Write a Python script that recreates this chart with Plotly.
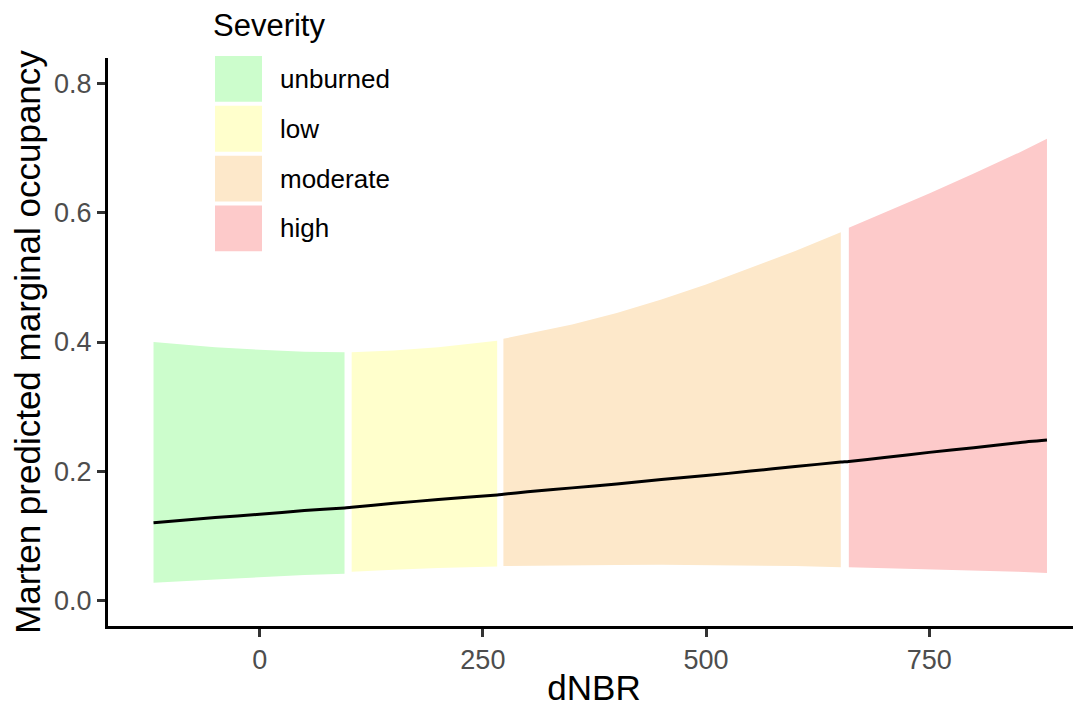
import plotly.graph_objects as go

# ---- data ----
dnbr = [-119, -50, 0, 50, 95,
        103, 150, 200, 266,
        273, 300, 350, 400, 450, 500, 550, 600, 651,
        660, 700, 750, 800, 850, 882]
fit = [0.120, 0.128, 0.133, 0.139, 0.143,
       0.144, 0.150, 0.156, 0.163,
       0.164, 0.168, 0.174, 0.180, 0.187, 0.193, 0.200, 0.207, 0.214,
       0.215, 0.221, 0.229, 0.236, 0.244, 0.248]
lower = [0.027, 0.032, 0.036, 0.039, 0.041,
         0.044, 0.047, 0.050, 0.052,
         0.053, 0.0535, 0.054, 0.0545, 0.055, 0.055, 0.054, 0.053, 0.051,
         0.051, 0.050, 0.048, 0.046, 0.044, 0.042]
upper = [0.400, 0.392, 0.388, 0.385, 0.384,
         0.384, 0.387, 0.392, 0.402,
         0.405, 0.413, 0.427, 0.445, 0.466, 0.489, 0.515, 0.541, 0.570,
         0.577, 0.600, 0.630, 0.661, 0.693, 0.715]
severity = (["unburned"] * 5 + ["low"] * 4 +
            ["moderate"] * 9 + ["high"] * 6)

classes = ["unburned", "low", "moderate", "high"]
class_colors = ["#CCFDCC", "#FFFFCC", "#FDE8CA", "#FDCACA"]

x_ticks = [0, 250, 500, 750]
y_ticks = [0.0, 0.2, 0.4, 0.6, 0.8]

FONT = "Liberation Sans, Arial, sans-serif"

fig = go.Figure()

for cls, col in zip(classes, class_colors):
    idx = [i for i, s in enumerate(severity) if s == cls]
    xs = [dnbr[i] for i in idx]
    up = [upper[i] for i in idx]
    lo = [lower[i] for i in idx]
    fig.add_trace(go.Scatter(
        x=xs + xs[::-1], y=up + lo[::-1],
        fill="toself", fillcolor=col, mode="lines",
        line=dict(width=0, color=col), showlegend=False,
        hoverinfo="skip"))

fig.add_trace(go.Scatter(x=dnbr, y=fit, mode="lines",
                         line=dict(color="black", width=3, shape="spline",
                                   smoothing=0.6),
                         showlegend=False))

# ---- manual legend ----
# page body has an 8px margin, so the figure starts at (8, 8) in the window
OFF = 8
FW, FH = 1081 - OFF, 707 - OFF
L, T, W, H = 108 - OFF, 58 - OFF, 972, 570


def px_x(p):
    return (p - OFF - L) / W


def px_y(p):
    return (T + H - (p - OFF)) / H


shapes = []
annotations = []
for i, (cls, col) in enumerate(zip(classes, class_colors)):
    top = 56 + 50 * i
    bot = top + 46
    shapes.append(dict(type="rect", xref="paper", yref="paper",
                       x0=px_x(215), x1=px_x(262), y0=px_y(bot), y1=px_y(top),
                       fillcolor=col, line=dict(width=0), layer="above"))
    annotations.append(dict(xref="paper", yref="paper", x=px_x(278),
                            y=px_y((top + bot) / 2), xanchor="left",
                            yanchor="middle", text=cls, showarrow=False,
                            font=dict(family=FONT, size=26, color="black")))
annotations.append(dict(xref="paper", yref="paper", x=px_x(211), y=px_y(25),
                        xanchor="left", yanchor="middle", text="Severity",
                        showarrow=False,
                        font=dict(family=FONT, size=31, color="black")))

fig.update_layout(
    width=FW, height=FH,
    margin=dict(l=L, r=FW - L - W, t=T, b=FH - T - H),
    paper_bgcolor="white", plot_bgcolor="white",
    font=dict(family=FONT),
    shapes=shapes, annotations=annotations,
    xaxis=dict(range=[-170, 919], tickvals=x_ticks,
               ticktext=[str(v) for v in x_ticks],
               showgrid=False, zeroline=False,
               showline=True, linecolor="black", linewidth=3,
               ticks="outside", ticklen=8, tickwidth=2.5, tickcolor="#333333",
               tickfont=dict(family=FONT, size=27, color="#4D4D4D"),
               title=dict(text="dNBR", standoff=6,
                          font=dict(family=FONT, size=35, color="black"))),
    yaxis=dict(range=[-0.04, 0.84], tickvals=y_ticks,
               ticktext=["%.1f" % v for v in y_ticks],
               showgrid=False, zeroline=False,
               showline=True, linecolor="black", linewidth=3,
               ticks="outside", ticklen=8, tickwidth=2.5, tickcolor="#333333",
               tickfont=dict(family=FONT, size=27, color="#4D4D4D"),
               title=dict(text="Marten predicted marginal occupancy", standoff=10,
                          font=dict(family=FONT, size=35, color="black"))),
)

fig.write_html("out.html")
